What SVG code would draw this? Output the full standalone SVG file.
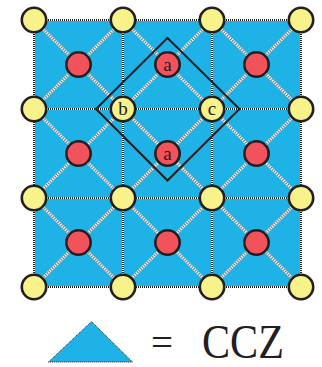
<svg xmlns="http://www.w3.org/2000/svg" width="322" height="367" viewBox="0 0 322 367">
  <defs>
    <style>
      .bg { fill: #1fb2e6; }
      .gw { stroke: #ffffff; stroke-width: 2; fill: none; }
      .gd { stroke: #231f20; stroke-width: 2; stroke-dasharray: 1 1; fill: none; }
      .dw { stroke: #ffffff; stroke-width: 3; fill: none; }
      .dd { stroke: #7a7a7a; stroke-width: 3; stroke-dasharray: 1.2 1.2; fill: none; }
      .frame { stroke: #231f20; stroke-width: 2; fill: none; }
      .y { fill: #f8f28a; stroke: #231f20; stroke-width: 2.6; }
      .r { fill: #f1525c; stroke: #231f20; stroke-width: 2.6; }
      .lbl { font-family: "Liberation Serif", "Times New Roman", serif; font-size: 19px; fill: #231f20; text-anchor: middle; }
      .big { font-family: "Liberation Serif", "Times New Roman", serif; fill: #231f20; }
    </style>
  </defs>

  <!-- lattice background -->
  <rect class="bg" x="34" y="20" width="267" height="267"/>

  <g id="connectors">
    <!-- diagonal bonds: each plaquette centre to its four corners -->
    <g id="diagonals">
      <path class="dw" d="M34 20 L301 287 M123 20 L301 198 M212 20 L301 109 M34 109 L212 287 M34 198 L123 287 M301 20 L34 287 M212 20 L34 198 M123 20 L34 109 M301 109 L123 287 M301 198 L212 287"/>
      <path class="dd" d="M34 20 L301 287 M123 20 L301 198 M212 20 L301 109 M34 109 L212 287 M34 198 L123 287 M301 20 L34 287 M212 20 L34 198 M123 20 L34 109 M301 109 L123 287 M301 198 L212 287"/>
    </g>
    <!-- square grid lines -->
    <g id="grid">
      <path class="gw" d="M34 20 H301 M34 109 H301 M34 198 H301 M34 287 H301 M34 20 V287 M123 20 V287 M212 20 V287 M301 20 V287"/>
      <path class="gd" d="M34 20 H301 M34 109 H301 M34 198 H301 M34 287 H301 M34 20 V287 M123 20 V287 M212 20 V287 M301 20 V287"/>
    </g>
    <!-- highlighted plaquette -->
    <path id="diamond" class="frame" d="M167.5 38 L239.5 109 L167.5 180.5 L96 109 Z"/>
  </g>

  <!-- red (plaquette) nodes -->
  <g id="r11"><circle class="r" cx="78.5" cy="64.5" r="12.2"/></g>
  <g id="r12"><circle class="r" cx="167.5" cy="64.5" r="12.2"/><text class="lbl" x="167.5" y="70.5">a</text></g>
  <g id="r13"><circle class="r" cx="256.5" cy="64.5" r="12.2"/></g>
  <g id="r21"><circle class="r" cx="78.5" cy="153.5" r="12.2"/></g>
  <g id="r22"><circle class="r" cx="167.5" cy="153.5" r="12.2"/><text class="lbl" x="167.5" y="159.5">a</text></g>
  <g id="r23"><circle class="r" cx="256.5" cy="153.5" r="12.2"/></g>
  <g id="r31"><circle class="r" cx="78.5" cy="242.5" r="12.2"/></g>
  <g id="r32"><circle class="r" cx="167.5" cy="242.5" r="12.2"/></g>
  <g id="r33"><circle class="r" cx="256.5" cy="242.5" r="12.2"/></g>

  <!-- yellow (vertex) nodes -->
  <g id="y00"><circle class="y" cx="34" cy="20" r="12.2"/></g>
  <g id="y01"><circle class="y" cx="123" cy="20" r="12.2"/></g>
  <g id="y02"><circle class="y" cx="212" cy="20" r="12.2"/></g>
  <g id="y03"><circle class="y" cx="301" cy="20" r="12.2"/></g>
  <g id="y10"><circle class="y" cx="34" cy="109" r="12.2"/></g>
  <g id="y11"><circle class="y" cx="123" cy="109" r="12.2"/><text class="lbl" x="123" y="115">b</text></g>
  <g id="y12"><circle class="y" cx="212" cy="109" r="12.2"/><text class="lbl" x="212" y="115">c</text></g>
  <g id="y13"><circle class="y" cx="301" cy="109" r="12.2"/></g>
  <g id="y20"><circle class="y" cx="34" cy="198" r="12.2"/></g>
  <g id="y21"><circle class="y" cx="123" cy="198" r="12.2"/></g>
  <g id="y22"><circle class="y" cx="212" cy="198" r="12.2"/></g>
  <g id="y23"><circle class="y" cx="301" cy="198" r="12.2"/></g>
  <g id="y30"><circle class="y" cx="34" cy="287" r="12.2"/></g>
  <g id="y31"><circle class="y" cx="123" cy="287" r="12.2"/></g>
  <g id="y32"><circle class="y" cx="212" cy="287" r="12.2"/></g>
  <g id="y33"><circle class="y" cx="301" cy="287" r="12.2"/></g>

  <!-- legend: triangle = CCZ -->
  <g id="legend">
    <path d="M48.5 362 L91.5 321.5 L132.5 362 Z" fill="#1fb2e6"/>
    <path d="M48.5 362 L91.5 321.5 L132.5 362 Z" fill="none" stroke="#231f20" stroke-width="1" stroke-dasharray="1 1"/>
    <text class="big" x="151" y="356" font-size="40" textLength="22" lengthAdjust="spacingAndGlyphs">=</text>
    <text class="big" x="202" y="358" font-size="48" textLength="82" lengthAdjust="spacingAndGlyphs">CCZ</text>
  </g>
</svg>
